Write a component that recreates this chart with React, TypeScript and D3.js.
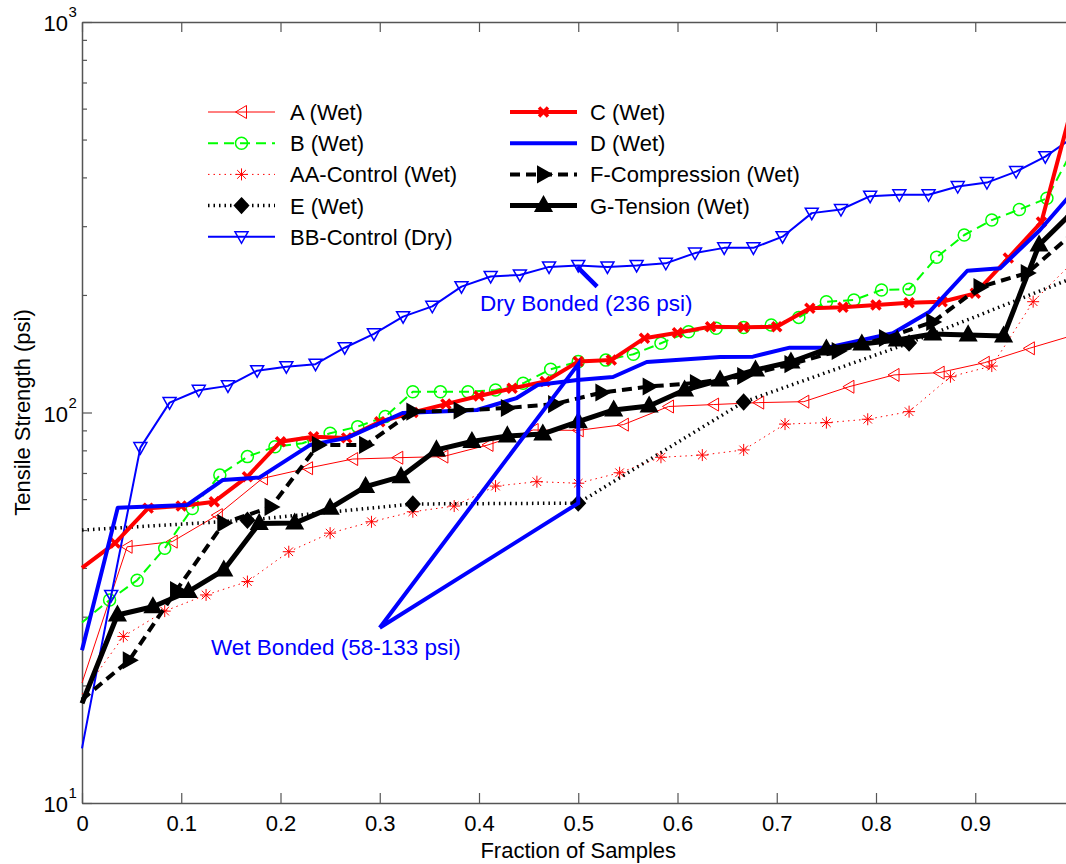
import * as d3 from "d3";
import { useEffect, useRef } from "react";

// values (psi), samples spread evenly over 0..1
const aWet = [20.3, 45.3, 46.7, 54.6, 67.8, 72, 76, 76.6, 77.1, 82.6, 90.2, 90, 93.1, 103.6, 104.8, 106, 106.6, 116.4, 124.8, 126.5, 134.1, 146, 158];
const bWet = [29, 33.1, 37.2, 44.9, 56.8, 69.2, 77.1, 81.7, 83.4, 88.5, 92, 97.6, 113, 113, 113, 114.2, 118.8, 129, 135, 136.2, 141, 150.4, 161, 164.3, 165, 167.5, 175.2, 192.2, 194.1, 206, 206.8, 249.7, 284.8, 311, 331, 353.6, 480];
const aaControl = [19, 26.7, 31, 34.1, 36.9, 44, 49.1, 52.5, 55.7, 57.6, 64.8, 66.5, 65.9, 70.1, 76.8, 77.8, 80.2, 93.4, 94.2, 96.1, 100.5, 123.5, 131.5, 192.2, 245];
const eWet = [50, 53, 58.3, 58.6, 106.4, 150.6, 222];
const bbControl = [13.8, 34, 81.3, 106, 114, 117, 128, 131, 133, 146.5, 159, 176, 187, 210, 223, 225, 236, 238, 236, 238, 241, 256, 264, 264, 282, 324, 331, 358, 361, 361, 379, 388, 414, 452, 510];
const cWet = [40, 46.3, 56.9, 57.6, 59.1, 68.5, 84.2, 86.7, 86.1, 94.7, 100, 105.1, 110.2, 115.3, 120, 135, 136.2, 155, 160.1, 165.9, 165.3, 165.9, 184.9, 186, 188.5, 191, 192.2, 201.9, 248.6, 307.5, 640];
// D has no markers, so its vertices are kept with their own fractions
const dFrac = [0, 0.036, 0.106, 0.142, 0.179, 0.23, 0.267, 0.323, 0.398, 0.438, 0.459, 0.499, 0.535, 0.569, 0.643, 0.676, 0.713, 0.751, 0.817, 0.854, 0.892, 0.925, 0.965, 1.0];
const dWet = [24.6, 57, 58, 67.2, 68.2, 82.6, 86.1, 99.7, 101.5, 108.9, 117.6, 121.1, 123.3, 134.7, 138.7, 139, 146.6, 146.6, 159.6, 181.2, 230.7, 234, 293, 371];
const fComp = [18.4, 23.2, 35.1, 52.1, 57.3, 82.6, 82.6, 100.5, 101.2, 102.7, 105.1, 112.5, 116.6, 119, 124, 133, 143.7, 155.2, 170.5, 209.6, 227.6, 290];
const gTens = [18, 30.3, 31.8, 34.8, 39.5, 52, 52.1, 56.9, 64.6, 68.5, 80.2, 84.3, 87.1, 88.1, 94.7, 101.5, 103.9, 114.2, 121.1, 128.5, 134.7, 145.4, 149.8, 153.4, 158.9, 158, 157, 268.5, 330];

// annotations
const wetNoteFrac = [0.3, 0.5, 0.5, 0.3];
const wetNoteVals = [28.1, 133, 58.6, 28.1];
const dryNoteFrac = [0.519, 0.499];
const dryNoteVals = [210, 236];

const xTicks = [0, 0.1, 0.2, 0.3, 0.4, 0.5, 0.6, 0.7, 0.8, 0.9];
const xTickLabels = ["0", "0.1", "0.2", "0.3", "0.4", "0.5", "0.6", "0.7", "0.8", "0.9"];
const yDecades = [10, 100, 1000];
const yExpLabels = ["1", "2", "3"];

const series = [
  { name: "A (Wet)", vals: aWet, color: "#ff0000", width: 1, dash: null, marker: "left", mw: 1 },
  { name: "B (Wet)", vals: bWet, color: "#00ff00", width: 2, dash: "10,6", marker: "circle", mw: 1.5 },
  { name: "AA-Control (Wet)", vals: aaControl, color: "#ff0000", width: 1, dash: "1.5,4", marker: "star", mw: 1 },
  { name: "E (Wet)", vals: eWet, color: "#000000", width: 3.5, dash: "1.5,4", marker: "diamond", mw: 3 },
  { name: "BB-Control (Dry)", vals: bbControl, color: "#0000ff", width: 2, dash: null, marker: "down", mw: 1.5 },
  { name: "C (Wet)", vals: cWet, color: "#ff0000", width: 4, dash: null, marker: "x", mw: 3.5 },
  { name: "D (Wet)", vals: dWet, fracs: dFrac, color: "#0000ff", width: 4, dash: null, marker: "none", mw: 1 },
  { name: "F-Compression (Wet)", vals: fComp, color: "#000000", width: 4, dash: "10,6", marker: "right", mw: 3 },
  { name: "G-Tension (Wet)", vals: gTens, color: "#000000", width: 5, dash: null, marker: "up", mw: 3 },
];

function markerPath(kind: string): string {
  switch (kind) {
    case "left": return "M-6,0L5,-6.5L5,6.5Z";
    case "right": return "M6.5,0L-5,-6.5L-5,6.5Z";
    case "down": return "M-6.5,-5L6.5,-5L0,6.5Z";
    case "up": return "M0,-7.5L7,5L-7,5Z";
    case "diamond": return "M0,-6.5L6,0L0,6.5L-6,0Z";
    case "circle": return "M6,0A6,6 0 1,1 -6,0A6,6 0 1,1 6,0Z";
    case "star": return "M-6,0L6,0M0,-6L0,6M-4.3,-4.3L4.3,4.3M-4.3,4.3L4.3,-4.3";
    case "x": return "M-4.5,-4.5L4.5,4.5M-4.5,4.5L4.5,-4.5";
    default: return "";
  }
}

function markerFill(kind: string, color: string): string {
  if (kind === "diamond" || kind === "right" || kind === "up") return color;
  return "none";
}

const App = () => {
  const svgRef = useRef<SVGSVGElement>(null);

  useEffect(() => {
    const w = 1066;
    const h = 864;
    const font = "Arial, 'Liberation Sans', sans-serif";
    const svg = d3
      .select(svgRef.current)
      .attr("width", w)
      .attr("height", h)
      .style("background", "#ffffff")
      .style("font-family", font);
    svg.selectAll("*").remove();

    const x = d3.scaleLinear().domain([0, 1]).range([82, 1074.5]);
    const y = d3.scaleLog().domain([10, 1000]).range([803, 22]);

    // axes
    const axisColor = "#555555";
    const xAxis = d3.axisBottom(x).tickValues(xTicks)
      .tickFormat((d, i) => xTickLabels[i])
      .tickSizeInner(-10).tickSizeOuter(0).tickPadding(12);
    const gx = svg.append("g").attr("transform", `translate(0, ${y(10)})`).call(xAxis);
    gx.selectAll("text").attr("font-size", 22).attr("fill", "#000").attr("font-family", font);

    const gTop = svg.append("g").attr("transform", `translate(0, ${y(1000)})`)
      .call(d3.axisTop(x).tickValues(xTicks).tickFormat(() => "").tickSizeInner(-10).tickSizeOuter(0));

    const yTickVals = y.ticks();
    const gy = svg.append("g").attr("transform", `translate(${x(0)}, 0)`)
      .call(d3.axisLeft(y).tickValues(yTickVals).tickFormat(() => "").tickSizeInner(-5).tickSizeOuter(0));
    gy.selectAll(".tick line")
      .attr("x2", (d: any) => (yDecades.includes(d) ? 10 : 5));

    [gx, gTop, gy].forEach((g) => {
      g.select(".domain").attr("stroke", axisColor).attr("stroke-width", 1.5);
      g.selectAll(".tick line").attr("stroke", axisColor).attr("stroke-width", 1.2);
    });

    // log labels 10^n
    yDecades.forEach((v, i) => {
      svg.append("text").attr("x", 68).attr("y", y(v) + 9)
        .attr("text-anchor", "end").attr("font-size", 22).text("10");
      svg.append("text").attr("x", 68.5).attr("y", y(v) - 5)
        .attr("font-size", 15).text(yExpLabels[i]);
    });

    // axis titles
    svg.append("text").attr("x", (x(0) + x(1)) / 2).attr("y", 858)
      .attr("text-anchor", "middle").attr("font-size", 22).text("Fraction of Samples");
    svg.append("text").attr("transform", `translate(30, ${(y(10) + y(1000)) / 2}) rotate(-90)`)
      .attr("text-anchor", "middle").attr("font-size", 22).text("Tensile Strength (psi)");

    // series
    series.forEach((s) => {
      const pts = s.vals.map((v, i) => [s.fracs ? s.fracs[i] : i / (s.vals.length - 1), v] as [number, number]);
      const line = d3.line<[number, number]>().x((d) => x(d[0])).y((d) => y(d[1]));
      svg.append("path")
        .attr("d", line(pts))
        .attr("fill", "none")
        .attr("stroke", s.color)
        .attr("stroke-width", s.width)
        .attr("stroke-dasharray", s.dash)
        .attr("stroke-linejoin", "round");
      if (s.marker !== "none") {
        // the points on the left edge show no marker in the reference
        svg.append("g").selectAll("path")
          .data(pts.filter((d) => d[0] > 0))
          .join("path")
          .attr("transform", (d) => `translate(${x(d[0])}, ${y(d[1])})`)
          .attr("d", markerPath(s.marker))
          .attr("fill", markerFill(s.marker, s.color))
          .attr("stroke", s.color)
          .attr("stroke-width", s.mw)
          .attr("stroke-linejoin", "miter");
      }
    });

    // annotations
    const noteLine = d3.line<[number, number]>().x((d) => x(d[0])).y((d) => y(d[1]));
    svg.append("path")
      .attr("d", noteLine(wetNoteFrac.map((f, i) => [f, wetNoteVals[i]] as [number, number])))
      .attr("fill", "none").attr("stroke", "#0000ff").attr("stroke-width", 4);
    svg.append("path")
      .attr("d", noteLine(dryNoteFrac.map((f, i) => [f, dryNoteVals[i]] as [number, number])))
      .attr("fill", "none").attr("stroke", "#0000ff").attr("stroke-width", 4.5);
    svg.append("text").attr("x", x(0.401)).attr("y", y(182))
      .attr("font-size", 22.5).attr("fill", "#0000ff").text("Dry Bonded (236 psi)");
    svg.append("text").attr("x", x(0.13)).attr("y", y(23.9))
      .attr("font-size", 22.5).attr("fill", "#0000ff").text("Wet Bonded (58-133 psi)");

    // legend, two columns
    const cols = [{ x1: 208, x2: 275, tx: 290 }, { x1: 510, x2: 577, tx: 590 }];
    series.forEach((s, i) => {
      const col = cols[i < 5 ? 0 : 1];
      const row = i < 5 ? i : i - 5;
      const ry = 112 + row * 31.2;
      const g = svg.append("g");
      g.append("line").attr("x1", col.x1).attr("x2", col.x2).attr("y1", ry).attr("y2", ry)
        .attr("stroke", s.color).attr("stroke-width", s.width).attr("stroke-dasharray", s.dash);
      if (s.marker !== "none") {
        g.append("path").attr("transform", `translate(${(col.x1 + col.x2) / 2}, ${ry})`)
          .attr("d", markerPath(s.marker))
          .attr("fill", markerFill(s.marker, s.color))
          .attr("stroke", s.color).attr("stroke-width", s.mw);
      }
      g.append("text").attr("x", col.tx).attr("y", ry + 8).attr("font-size", 22).text(s.name);
    });
  }, []);

  return <svg ref={svgRef} style={{ position: "absolute", left: 0, top: 0 }}></svg>;
};

export default App;
